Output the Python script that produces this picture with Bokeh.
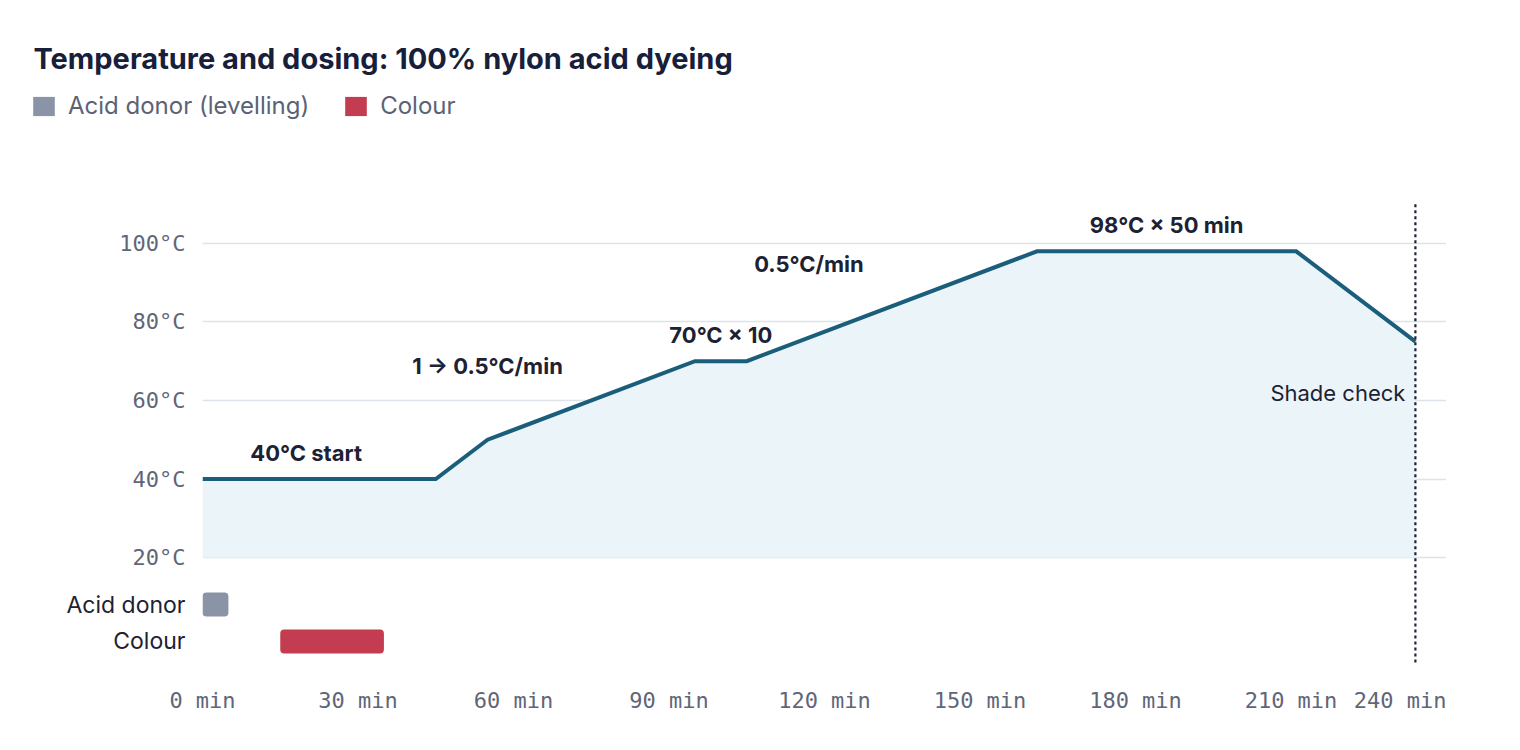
from bokeh.plotting import figure
from bokeh.layouts import column
from bokeh.models import Range1d, FixedTicker, Legend, LegendItem, ColumnDataSource
from bokeh.core.properties import value
from bokeh.embed import file_html
from bokeh.resources import INLINE

# temperature profile: time (min) vs bath temperature (°C)
time_min = [0, 45, 55, 95, 105, 161, 211, 234]
temp_c = [40, 40, 50, 70, 70, 98, 98, 75]
baseline_c = 20

# dosing windows (minutes)
dose_rows = ["Acid donor", "Colour"]
dose_pos = [1, 0]
dose_start = [0, 15]
dose_end = [5, 35]
dose_colors = ["#8b93a7", "#c43c50"]
legend_labels = ["Acid donor (levelling)", "Colour"]

shade_check_min = 234

# step notes on the curve
note_text = ["40°C start", "1 → 0.5°C/min", "70°C × 10", "0.5°C/min", "98°C × 50 min"]
note_x = [20, 55, 100, 117, 186]
note_y = [46.6, 68.7, 76.8, 94.7, 104.6]

x_ticks = [0, 30, 60, 90, 120, 150, 180, 210, 240]
y_ticks = [20, 40, 60, 80, 100]

title_text = "Temperature and dosing: 100% nylon acid dyeing"

SANS = "Inter"
MONO = "DejaVu Sans Mono"
W = 1446
INK = "#1d2233"
TICK = "#5f6678"


def style_axis(ax, font, color, size):
    ax.axis_line_color = None
    ax.major_tick_line_color = None
    ax.minor_tick_line_color = None
    ax.major_tick_out = 0
    ax.major_tick_in = 0
    ax.major_label_text_font = font
    ax.major_label_text_font_size = size
    ax.major_label_text_color = color
    ax.major_label_standoff = 17


dsrc = ColumnDataSource(dict(y=dose_pos, left=dose_start, right=dose_end, color=dose_colors))

# ---- header: title + legend
head = figure(width=W, height=150, x_range=Range1d(0, W), y_range=Range1d(150, 0),
              x_axis_location=None, y_axis_location=None, output_backend="svg",
              toolbar_location=None, min_border=0)
head.grid.grid_line_color = None
head.outline_line_color = None
head.text(x=[33], y=[58], text=[title_text], text_font=value(SANS), text_font_size="29px",
          text_font_style="bold", text_color="#17203a", text_baseline="middle")
# hidden copy of the dosing bars, only used to feed the legend swatches
swatch = head.hbar(y="y", left="left", right="right", height=0.65, fill_color="color",
                   line_color=None, source=dsrc, visible=False)
legend = Legend(items=[LegendItem(label=lab, renderers=[swatch], index=i)
                       for i, lab in enumerate(legend_labels)],
                orientation="horizontal", location=(30, 30),
                label_text_font=SANS, label_text_font_size="24px", label_text_color="#5b6275",
                glyph_height=24, glyph_width=27, label_standoff=11, spacing=33,
                border_line_color=None, background_fill_alpha=0, margin=0, padding=0)
head.add_layout(legend)

# ---- temperature panel
p = figure(width=W, height=425, x_range=Range1d(0, 240), y_range=Range1d(15.42, 110.94),
           x_axis_location=None, output_backend="svg", toolbar_location=None,
           min_border_left=202, min_border_right=0, min_border_top=50, min_border_bottom=0)
p.outline_line_color = None
p.yaxis.ticker = FixedTicker(ticks=y_ticks)
p.yaxis.major_label_overrides = {t: f"{t}°C" for t in y_ticks}
style_axis(p.yaxis, MONO, TICK, "22px")
p.xgrid.grid_line_color = None
p.ygrid.ticker = FixedTicker(ticks=y_ticks)
p.ygrid.grid_line_color = "#dde3ea"
p.ygrid.grid_line_width = 1.5

src = ColumnDataSource(dict(t=time_min, temp=temp_c, base=[baseline_c] * len(time_min)))
p.varea(x="t", y1="base", y2="temp", source=src, fill_color="#ebf4f8")
p.line(x="t", y="temp", source=src, line_color="#1b5e7b", line_width=4, line_join="miter")

p.segment(x0=[shade_check_min], y0=[110], x1=[shade_check_min], y1=[15.42],
          line_color="#1e2536", line_width=2.2, line_dash="3 3")
p.text(x=[shade_check_min], y=[61.8], text=["Shade check"], x_offset=-10,
       text_align="right", text_baseline="middle", text_font=value(SANS),
       text_font_size="22px", text_color=INK)

nsrc = ColumnDataSource(dict(x=note_x, y=note_y, text=note_text))
p.text(x="x", y="y", text="text", source=nsrc, text_align="center", text_baseline="middle",
       text_font=value(SANS), text_font_size="22px", text_font_style="bold", text_color=INK)

# ---- dosing panel
d = figure(width=W, height=153, x_range=p.x_range, y_range=Range1d(-0.784, 1.784),
           output_backend="svg", toolbar_location=None,
           min_border_left=202, min_border_right=0, min_border_top=0, min_border_bottom=58)
d.outline_line_color = None
d.grid.grid_line_color = None
d.yaxis.ticker = FixedTicker(ticks=dose_pos)
d.yaxis.major_label_overrides = {pos: name for name, pos in zip(dose_rows, dose_pos)}
style_axis(d.yaxis, SANS, INK, "23px")
d.xaxis.ticker = FixedTicker(ticks=x_ticks)
d.xaxis.major_label_overrides = {t: f"{t} min" for t in x_ticks}
style_axis(d.xaxis, MONO, TICK, "22px")

d.hbar(y="y", left="left", right="right", height=0.65, fill_color="color", line_color=None,
       border_radius=4, source=dsrc)
d.segment(x0=[shade_check_min], y0=[1.784], x1=[shade_check_min], y1=[-0.649],
          line_color="#1e2536", line_width=2.2, line_dash="3 3")

layout = column(head, column(p, d, spacing=0), spacing=0)
open("out.html", "w").write(file_html(layout, INLINE))
